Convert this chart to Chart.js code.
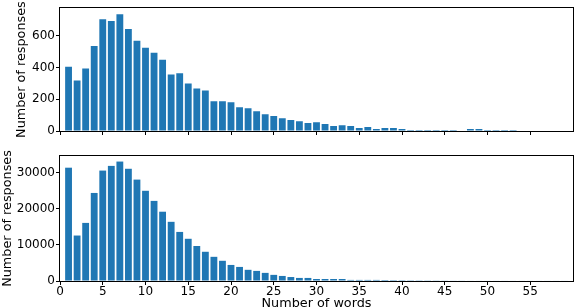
<!DOCTYPE html>
<html>
<head>
<meta charset="utf-8">
<script src="https://cdn.jsdelivr.net/npm/chart.js@4.4.0/dist/chart.umd.min.js"></script>
<style>
body{margin:0;background:#fff;overflow:hidden;}
#wrap{position:relative;width:574px;height:308px;}
canvas{position:absolute;left:0;}
#topChart{top:0;}
#bottomChart{top:145px;}
</style>
</head>
<body>
<div id="wrap">
<canvas id="topChart" width="574" height="145"></canvas>
<canvas id="bottomChart" width="574" height="166"></canvas>
</div>
<script>

// top panel: words 1..53
const topWords = [1,2,3,4,5,6,7,8,9,10,11,12,13,14,15,16,17,18,19,20,21,22,23,24,25,26,27,28,29,30,31,32,33,34,35,36,37,38,39,40,41,42,43,44,45,46,47,48,49,50,51,52,53];
const topCounts = [406,319,394,537,706,694,737,644,569,525,494,450,356,365,300,269,256,187,187,181,150,144,125,106,94,81,69,62,50,56,44,31,37,31,19,25,12,19,19,12,6,6,6,6,6,6,0,12,12,6,6,6,6];

// bottom panel: words 1..59
const bottomWords = [1,2,3,4,5,6,7,8,9,10,11,12,13,14,15,16,17,18,19,20,21,22,23,24,25,26,27,28,29,30,31,32,33,34,35,36,37,38,39,40,41,42,43,44,45,46,47,48,49,50,51,52,53,54,55,56,57,58,59];
const bottomCounts = [31400,12600,16100,24400,30600,31900,33100,31100,28100,25000,22200,19200,16400,13600,11700,9700,8100,6700,5600,4450,3900,3100,2800,2250,1700,1400,1100,850,850,560,560,560,560,300,300,300,300,280,250,230,210,200,190,180,170,160,160,150,150,150,150,150,150,150,150,150,150,150,150];

const xTicks = [0,5,10,15,20,25,30,35,40,45,50,55];
const topYTicks = [0,200,400,600];
const bottomYTicks = [0,10000,20000,30000];

const barColor = '#1f77b4';
const tickFont = {family:'DejaVu Sans', size:12};
const titleFont = {family:'DejaVu Sans', size:12.8};

Chart.defaults.color = '#000';

const framePlugin = {
id:'frame',
afterDatasetsDraw(chart){
const a = chart.chartArea;
const ctx = chart.ctx;
ctx.save();
ctx.strokeStyle = '#000';
ctx.lineWidth = 1;
ctx.strokeRect(Math.round(a.left)-0.5, Math.round(a.top)-0.5, Math.round(a.right-a.left)+1, Math.round(a.bottom-a.top)+1);
ctx.restore();
}
};

function makeChart(id, words, counts, yTicks, yMax, opts){

const points = words.map((w,i)=>({x:w, y:counts[i]}));

return new Chart(document.getElementById(id),{
type:'bar',
data:{datasets:[{data:points, backgroundColor:barColor, borderWidth:0, barPercentage:0.8, categoryPercentage:1}]},
options:{
responsive:false,
animation:false,
layout:{padding:{left:opts.left, top:opts.top, right:1, bottom:0}},
plugins:{legend:{display:false}, tooltip:{enabled:false}},
scales:{
x:{
type:'linear',
min:0, max:60,
offset:false,
grid:{display:true, drawOnChartArea:false, offset:false, color:'#000', tickLength:4},
border:{display:false},
afterBuildTicks:s=>{ s.ticks = xTicks.map(v=>({value:v})); },
afterFit:s=>{ s.height = opts.xHeight; },
ticks:{display:opts.showX, font:tickFont, padding:0, maxRotation:0, autoSkip:false, callback:v=>String(v)},
title:{display:opts.showX, text:'Number of words', font:titleFont, padding:0}
},
y:{
min:0, max:yMax,
grid:{display:true, drawOnChartArea:false, color:'#000', tickLength:4},
border:{display:false},
afterBuildTicks:s=>{ s.ticks = yTicks.map(v=>({value:v})); },
afterFit:s=>{ s.width = 60 - opts.left; },
ticks:{font:tickFont, padding:1, callback:v=>String(v)},
title:{display:true, text:'Number of responses', font:titleFont, padding:0}
}
}
},
plugins:[framePlugin]
});

}

makeChart('topChart', topWords, topCounts, topYTicks, 775, {left:14, top:7, xHeight:14, showX:false});
makeChart('bottomChart', bottomWords, bottomCounts, bottomYTicks, 34640, {left:0, top:11, xHeight:30, showX:true});

</script>
</body>
</html>
